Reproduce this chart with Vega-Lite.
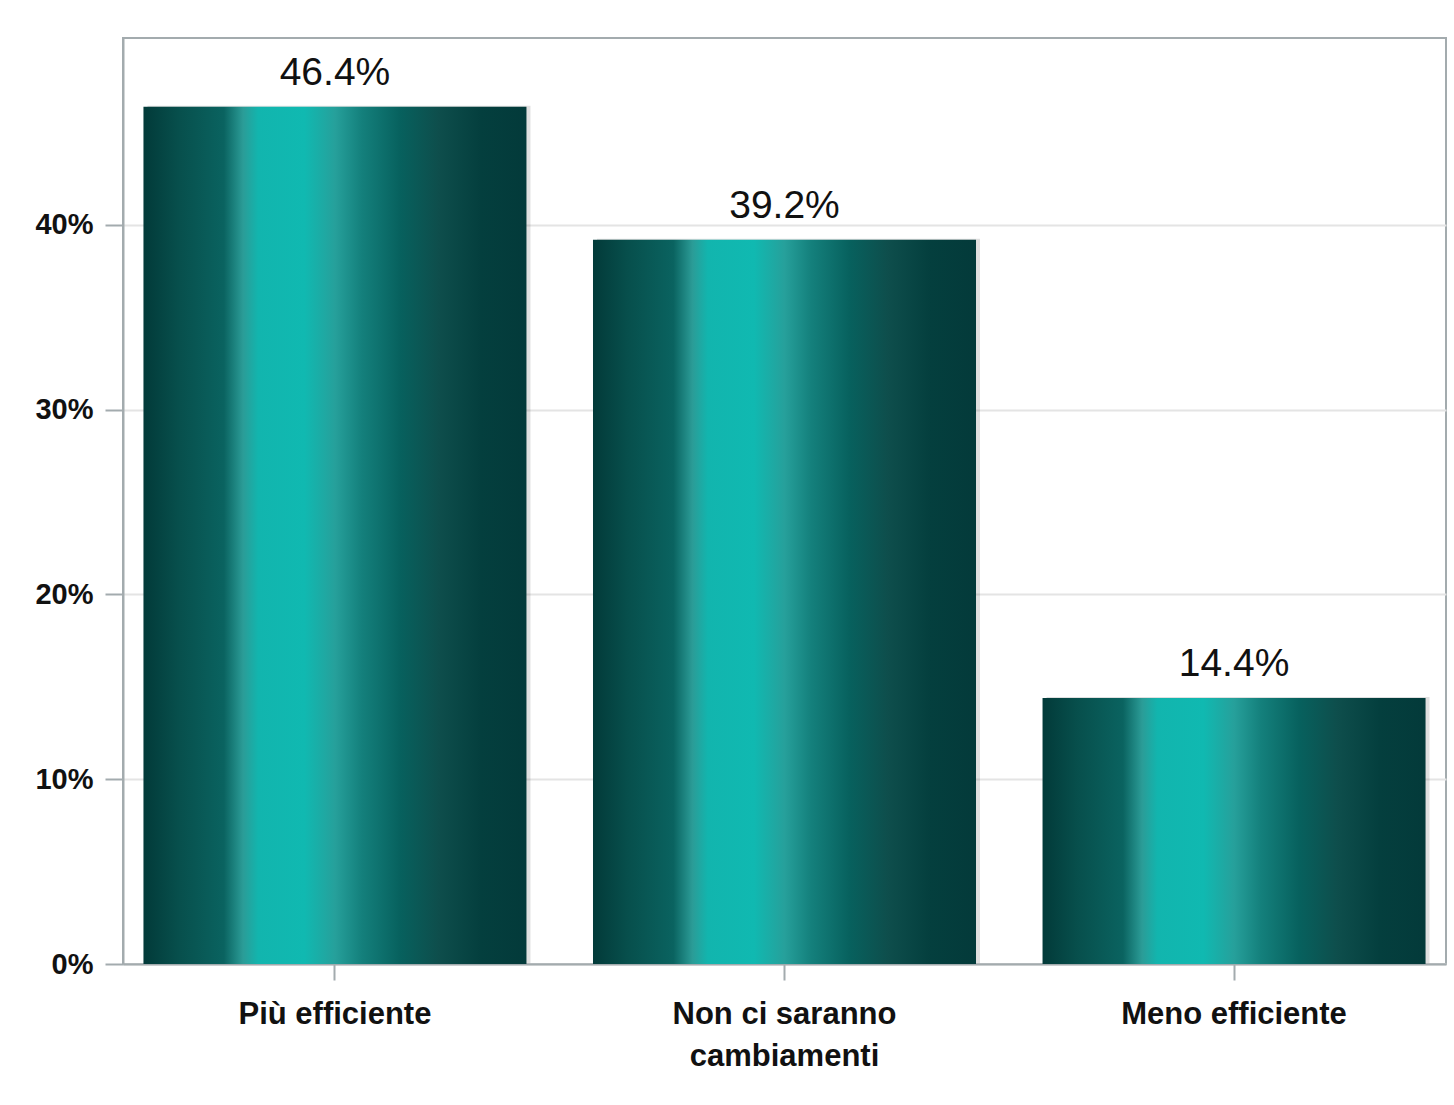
{
  "$schema": "https://vega.github.io/schema/vega-lite/v6.json",
  "width": 1323,
  "height": 926,
  "autosize": {"type": "none"},
  "padding": {"left": 123, "top": 38, "right": 8, "bottom": 141},
  "background": "#ffffff",
  "data": {
    "values": [
      {"risposta": "Più efficiente", "quota": 0.464},
      {"risposta": "Non ci saranno cambiamenti", "quota": 0.392},
      {"risposta": "Meno efficiente", "quota": 0.144}
    ]
  },
  "encoding": {
    "x": {
      "field": "risposta",
      "type": "nominal",
      "sort": null,
      "scale": {"paddingInner": 0.148, "paddingOuter": 0.0455},
      "axis": {
        "title": null,
        "labelAngle": 0,
        "labelLimit": 0,
        "labelFont": "Liberation Sans",
        "labelFontWeight": "bold",
        "labelFontSize": 31,
        "labelColor": "#111111",
        "labelPadding": 19,
        "labelLineHeight": 42,
        "labelExpr": "datum.value == 'Non ci saranno cambiamenti' ? ['Non ci saranno', 'cambiamenti'] : datum.value",
        "domainColor": "#a3abae",
        "domainWidth": 2,
        "tickColor": "#a3abae",
        "tickWidth": 2,
        "tickSize": 16,
        "grid": false
      }
    },
    "y": {
      "field": "quota",
      "type": "quantitative",
      "scale": {"domain": [0, 0.5012], "nice": false},
      "axis": {
        "title": null,
        "values": [0, 0.1, 0.2, 0.3, 0.4],
        "format": ".0%",
        "labelFont": "Liberation Sans",
        "labelFontWeight": "bold",
        "labelFontSize": 29,
        "labelColor": "#111111",
        "labelPadding": 12,
        "labelLimit": 0,
        "domainColor": "#a3abae",
        "domainWidth": 2,
        "tickColor": "#a3abae",
        "tickWidth": 2,
        "tickSize": 18,
        "gridColor": "#e4e4e4",
        "gridWidth": 2
      }
    }
  },
  "layer": [
    {
      "mark": {"type": "bar", "color": "#000000", "opacity": 0.12, "xOffset": 4, "yOffset": -1}
    },
    {
      "mark": {
        "type": "bar",
        "color": {
          "gradient": "linear",
          "x1": 0, "y1": 0, "x2": 1, "y2": 0,
          "stops": [
            {"offset": 0, "color": "#023a39"},
            {"offset": 0.09, "color": "#074f4c"},
            {"offset": 0.21, "color": "#0a6360"},
            {"offset": 0.26, "color": "#2b9c97"},
            {"offset": 0.3, "color": "#12b5ae"},
            {"offset": 0.42, "color": "#10b9b1"},
            {"offset": 0.5, "color": "#26a09b"},
            {"offset": 0.57, "color": "#14807c"},
            {"offset": 0.67, "color": "#07615e"},
            {"offset": 0.77, "color": "#0e4e4c"},
            {"offset": 0.88, "color": "#043f3e"},
            {"offset": 1, "color": "#033a3a"}
          ]
        }
      }
    },
    {
      "mark": {
        "type": "text",
        "baseline": "bottom",
        "dy": -14,
        "font": "Liberation Sans",
        "fontSize": 39,
        "color": "#111111"
      },
      "encoding": {
        "text": {"field": "quota", "type": "quantitative", "format": ".1%"}
      }
    }
  ],
  "config": {
    "view": {"stroke": "#a3abae", "strokeWidth": 2}
  }
}
